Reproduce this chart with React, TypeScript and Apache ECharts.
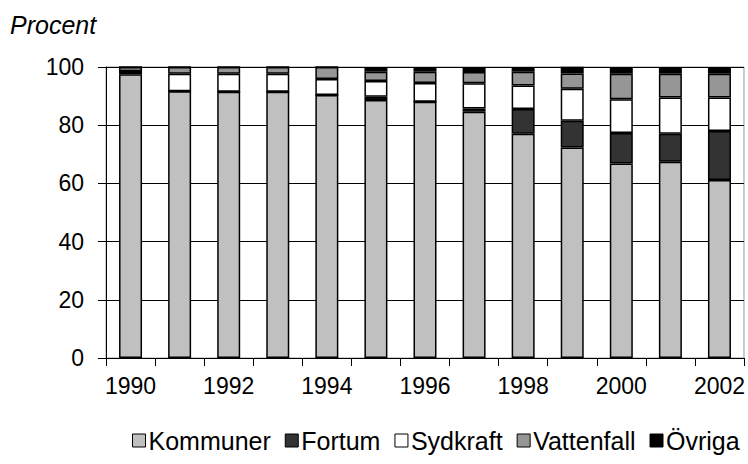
import React, { useEffect, useRef } from "react";
import * as echarts from "echarts";

const years = ["1990", "1991", "1992", "1993", "1994", "1995", "1996", "1997", "1998", "1999", "2000", "2001", "2002"];
const kommuner = [97.5, 91.7, 91.5, 91.5, 90.4, 88.7, 88.1, 84.6, 77.1, 72.3, 66.8, 67.4, 61.2];
const fortum = [1.0, 0, 0, 0, 0, 1.1, 0, 1.1, 8.5, 9.2, 10.5, 9.7, 16.8];
const sydkraft = [0, 6.0, 6.2, 6.2, 5.5, 5.4, 6.4, 8.7, 8.0, 11.0, 11.6, 12.4, 11.5];
const vattenfall = [1.5, 2.3, 2.3, 2.3, 4.1, 3.2, 3.9, 3.9, 4.8, 5.3, 8.8, 8.2, 8.2];
const ovriga = [0, 0, 0, 0, 0, 1.6, 1.6, 1.6, 1.6, 2.3, 2.3, 2.3, 2.3];
const yTicks = [0, 20, 40, 60, 80, 100];

const seriesDefs = [
  { name: "Kommuner", data: kommuner, color: "#c0c0c0" },
  { name: "Fortum", data: fortum, color: "#333333" },
  { name: "Sydkraft", data: sydkraft, color: "#ffffff" },
  { name: "Vattenfall", data: vattenfall, color: "#969696" },
  { name: "Övriga", data: ovriga, color: "#000000" },
];

const FONT = "'Liberation Sans', Arial, sans-serif";

export default function App() {
  const ref = useRef<HTMLDivElement>(null);
  useEffect(() => {
    if (!ref.current) return;
    const chart = echarts.init(ref.current, undefined, { renderer: "svg" });
    chart.setOption({
      animation: false,
      backgroundColor: "#ffffff",
      graphic: [
        {
          type: "text",
          left: 10,
          top: 12,
          style: { text: "Procent", font: `italic 25px ${FONT}`, fill: "#000" },
        },
      ],
      grid: {
        left: 106,
        right: 3,
        top: 67,
        bottom: 106,
        show: true,
        borderColor: "#999999",
        borderWidth: 1,
        backgroundColor: "transparent",
      },
      legend: {
        left: 132,
        top: 428,
        padding: 0,
        itemWidth: 13,
        itemHeight: 13,
        itemGap: 14,
        icon: "rect",
        textStyle: { fontFamily: FONT, fontSize: 25, color: "#000", padding: [0, 0, 0, -2] },
        itemStyle: { borderColor: "#000", borderWidth: 1 },
        data: seriesDefs.map((s) => s.name),
      },
      xAxis: {
        type: "category",
        data: years,
        boundaryGap: true,
        axisLine: { lineStyle: { color: "#000", width: 1 } },
        axisTick: { show: true, length: 8, lineStyle: { color: "#000" }, interval: 0 },
        axisLabel: { interval: 1, fontFamily: FONT, fontSize: 23, color: "#000", margin: 16 },
      },
      yAxis: {
        type: "value",
        min: yTicks[0],
        max: yTicks[yTicks.length - 1],
        interval: 20,
        axisLine: { show: true, lineStyle: { color: "#000", width: 1 } },
        axisTick: { show: true, length: 8, lineStyle: { color: "#000" } },
        axisLabel: { fontFamily: FONT, fontSize: 23, color: "#000", margin: 22 },
        splitLine: { show: true, lineStyle: { color: "#000", width: 1 } },
      },
      series: seriesDefs.map((s) => ({
        name: s.name,
        type: "bar",
        stack: "total",
        data: s.data,
        barWidth: 23,
        itemStyle: { color: s.color, borderColor: "#000", borderWidth: 1.5 },
      })),
    });
    return () => chart.dispose();
  }, []);
  return (
    <div
      ref={ref}
      style={{ position: "fixed", left: 0, top: 0, width: 748, height: 464, background: "#fff" }}
    />
  );
}
